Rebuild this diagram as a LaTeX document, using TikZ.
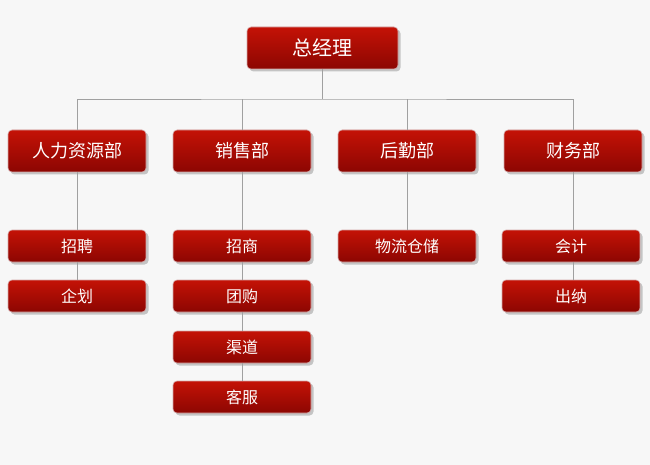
\documentclass[tikz,border=0pt]{standalone}
\usepackage{fontspec}
\setmainfont{Noto Sans CJK SC}
\usetikzlibrary{shadows}
\definecolor{bg}{HTML}{F7F7F7}
\definecolor{redtop}{HTML}{C41206}
\definecolor{redbot}{HTML}{8C0602}
\definecolor{edge}{HTML}{D3A8A8}
\definecolor{conn}{HTML}{A0A0A0}
\begin{document}
\begin{tikzpicture}[x=1pt,y=-1pt,
  box/.style={draw=edge,line width=0.6pt,rounded corners=4pt,
    top color=redtop,bottom color=redbot,text=white,inner sep=0pt,
    minimum width=138pt,
    drop shadow={shadow xshift=2.5pt,shadow yshift=-2.5pt,opacity=0.35,fill=black!60}},
  topbox/.style={box,minimum width=151pt,minimum height=42pt,font=\fontsize{20}{23}\selectfont},
  deptbox/.style={box,minimum height=42pt,font=\fontsize{18}{21}\selectfont},
  subbox/.style={box,minimum height=32pt,font=\fontsize{16}{19}\selectfont},
  link/.style={draw=conn,line width=0.7pt}]
\fill[bg] (0,0) rectangle (650,465);
\useasboundingbox (0,0) rectangle (650,465);

\node[topbox] (top) at (322.5,48) {总经理};

\node[deptbox] (hr)  at (77,151)  {人力资源部};
\node[deptbox] (sal) at (242,151) {销售部};
\node[deptbox] (log) at (407,151) {后勤部};
\node[deptbox] (fin) at (573,151) {财务部};

\node[subbox] (hr1) at (77,246) {招聘};
\node[subbox] (hr2) at (77,296) {企划};
\node[subbox] (sa1) at (242,246) {招商};
\node[subbox] (sa2) at (242,296) {团购};
\node[subbox] (sa3) at (242,347) {渠道};
\node[subbox] (sa4) at (242,397) {客服};
\node[subbox] (lo1) at (407,246) {物流仓储};
\node[subbox] (fi1) at (571,246) {会计};
\node[subbox] (fi2) at (571,296) {出纳};

\coordinate (bus) at (322.5,99);
\draw[link] (top.south) -- (bus);
\draw[link] (hr.north) |- (bus) -| (fin.north);
\draw[link] (sal.north) -- (sal.north |- bus);
\draw[link] (log.north) -- (log.north |- bus);

\draw[link] (hr.south) -- (hr1.north);
\draw[link] (hr1.south) -- (hr2.north);
\draw[link] (sal.south) -- (sa1.north);
\draw[link] (sa1.south) -- (sa2.north);
\draw[link] (sa2.south) -- (sa3.north);
\draw[link] (sa3.south) -- (sa4.north);
\draw[link] (log.south) -- (lo1.north);
\draw[link] (fin.south) -- (fin.south |- fi1.north);
\draw[link] (fin.south |- fi1.south) -- (fin.south |- fi2.north);
\end{tikzpicture}
\end{document}
